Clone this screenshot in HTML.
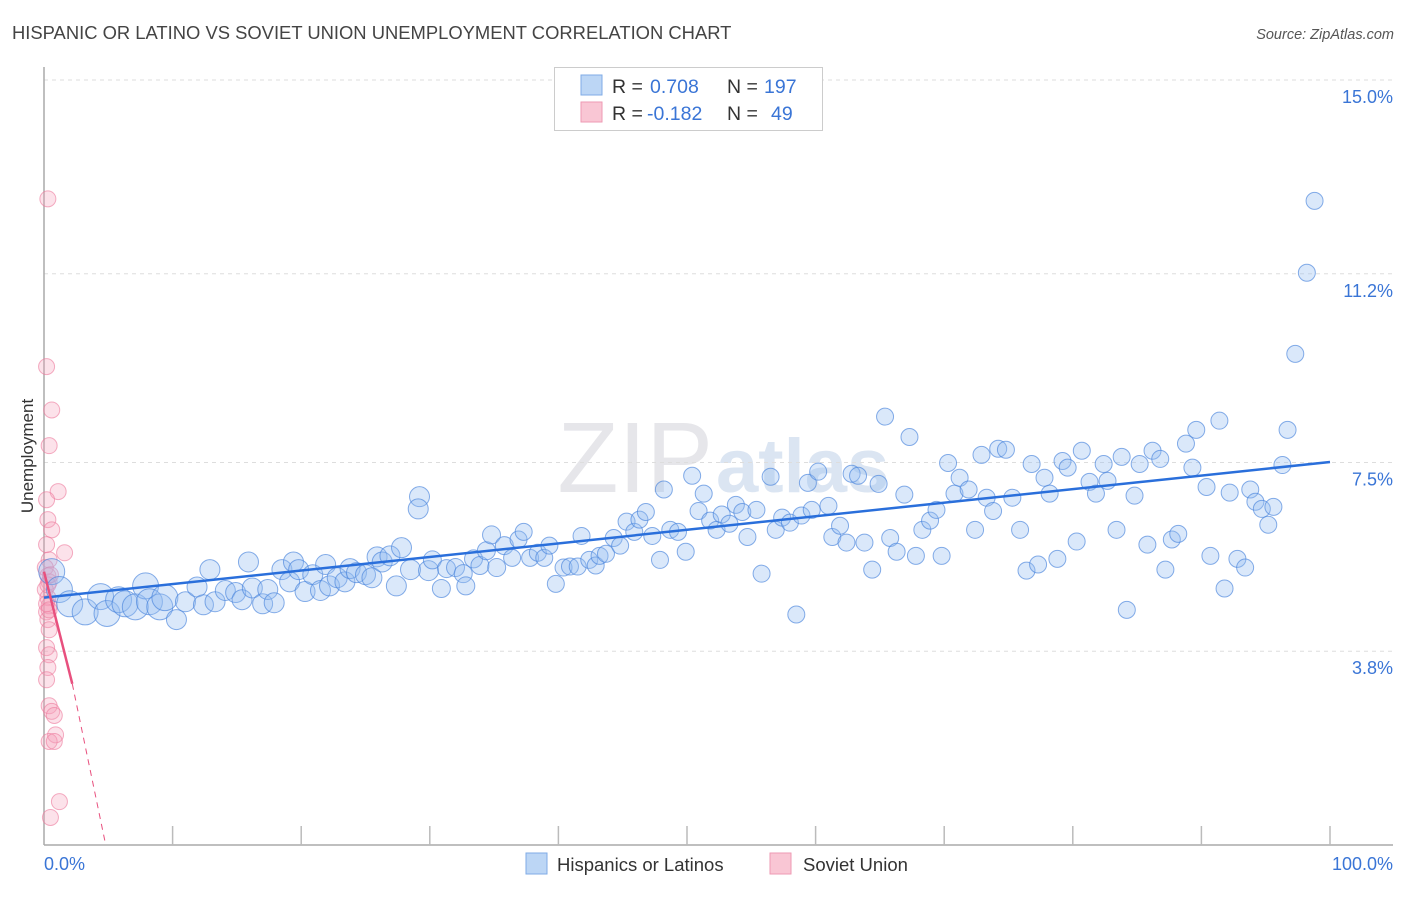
<!DOCTYPE html>
<html><head><meta charset="utf-8"><style>
body{margin:0;background:#fff;font-family:"Liberation Sans",sans-serif}
svg text{font-family:"Liberation Sans",sans-serif}
</style></head><body>
<svg id="chart" width="1406" height="892" xmlns="http://www.w3.org/2000/svg">
<text x="12" y="39" font-size="18.4" fill="#444">HISPANIC OR LATINO VS SOVIET UNION UNEMPLOYMENT CORRELATION CHART</text>
<text x="1394" y="39" font-size="14.5" font-style="italic" fill="#555" text-anchor="end">Source: ZipAtlas.com</text>
<text x="713" y="492" font-size="100" fill="#e6e6ea" text-anchor="end" font-family="Liberation Serif">ZIP</text>
<text x="716" y="492" font-size="76" fill="#dbe5f2" font-weight="bold">atlas</text>
<g id="grid"></g>
<g id="axes"></g>
<g id="pink"></g>
<g id="blue"></g>
<g id="trends"></g>
<text transform="translate(33,456) rotate(-90)" font-size="17" fill="#333" text-anchor="middle">Unemployment</text>
<g>
<rect x="554.5" y="67.5" width="268" height="63" fill="#fff" stroke="#ccc"/>
<rect x="581" y="75" width="21" height="20" fill="#bcd6f5" stroke="#7fabe6"/>
<rect x="581" y="102" width="21" height="20" fill="#f9c6d4" stroke="#ee9ab3"/>
<text x="612" y="93" font-size="19.5" fill="#333">R =</text>
<text x="650" y="93" font-size="19.5" fill="#3a75d6">0.708</text>
<text x="727" y="93" font-size="19.5" fill="#333">N =</text>
<text x="764" y="93" font-size="19.5" fill="#3a75d6">197</text>
<text x="612" y="120" font-size="19.5" fill="#333">R =</text>
<text x="647" y="120" font-size="19.5" fill="#3a75d6">-0.182</text>
<text x="727" y="120" font-size="19.5" fill="#333">N =</text>
<text x="771" y="120" font-size="19.5" fill="#3a75d6">49</text>
</g>
<g>
<rect x="526" y="853" width="21" height="21" fill="#bcd6f5" stroke="#7fabe6"/>
<text x="557" y="871" font-size="18.5" fill="#333">Hispanics or Latinos</text>
<rect x="770" y="853" width="21" height="21" fill="#f9c6d4" stroke="#ee9ab3"/>
<text x="803" y="871" font-size="18.5" fill="#333">Soviet Union</text>
</g>
</svg>
<script>
const yTicks=[15.0,11.2,7.5,3.8];
const yTickLabels=["15.0%","11.2%","7.5%","3.8%"];
const xTickCount=10;
const xLabels=["0.0%","100.0%"];
const blueX=[0.6,1.2,2.0,3.2,4.4,4.9,5.8,6.3,7.1,7.9,8.2,9.0,9.4,10.3,11.0,11.9,12.4,12.9,13.3,14.1,14.9,15.4,15.9,16.2,17.0,17.4,17.9,18.5,19.1,19.4,19.8,20.3,20.9,21.5,21.9,22.2,22.8,23.4,23.8,24.3,25.0,25.5,25.9,26.3,26.9,27.4,27.8,28.5,29.2,29.1,29.9,30.2,30.9,31.3,32.0,32.6,32.8,33.4,33.9,34.4,34.8,35.2,35.8,36.4,36.9,37.3,37.8,38.4,38.9,39.3,39.8,40.4,40.9,41.5,41.8,42.4,42.9,43.2,43.7,44.3,44.8,45.3,45.9,46.3,46.8,47.3,47.9,48.2,48.7,49.3,49.9,50.4,50.9,51.3,51.8,52.3,52.7,53.3,53.8,54.3,54.7,55.4,55.8,56.5,56.9,57.4,58.0,58.5,58.9,59.4,59.7,60.2,61.0,61.3,61.9,62.4,62.8,63.3,63.8,64.4,64.9,65.4,65.8,66.3,66.9,67.3,67.8,68.3,68.9,69.4,69.8,70.3,70.8,71.2,71.9,72.4,72.9,73.3,73.8,74.2,74.8,75.3,75.9,76.4,76.8,77.3,77.8,78.2,78.8,79.2,79.6,80.3,80.7,81.3,81.8,82.4,82.7,83.4,83.8,84.2,84.8,85.2,85.8,86.2,86.8,87.2,87.7,88.2,88.8,89.3,89.6,90.4,90.7,91.4,91.8,92.2,92.8,93.4,93.8,94.2,94.7,95.2,95.6,96.3,96.7,97.3,98.2,98.8];
const blueY=[5.36,5.01,4.73,4.57,4.87,4.54,4.81,4.73,4.67,5.08,4.77,4.67,4.85,4.42,4.77,5.06,4.71,5.40,4.77,4.99,4.95,4.81,5.55,5.04,4.73,5.01,4.75,5.40,5.16,5.55,5.40,4.97,5.30,4.99,5.50,5.08,5.24,5.16,5.42,5.34,5.30,5.24,5.65,5.55,5.67,5.08,5.83,5.40,6.83,6.59,5.38,5.59,5.03,5.42,5.44,5.32,5.08,5.61,5.48,5.77,6.08,5.44,5.87,5.63,5.99,6.14,5.63,5.73,5.63,5.87,5.12,5.44,5.46,5.46,6.06,5.59,5.48,5.67,5.71,6.02,5.87,6.34,6.14,6.38,6.53,6.06,5.59,6.97,6.18,6.14,5.75,7.24,6.55,6.89,6.36,6.18,6.48,6.30,6.67,6.53,6.04,6.57,5.32,7.22,6.18,6.42,6.32,4.52,6.46,7.10,6.57,7.32,6.65,6.04,6.26,5.93,7.28,7.24,5.93,5.40,7.08,8.40,6.02,5.75,6.87,8.00,5.67,6.18,6.36,6.57,5.67,7.49,6.89,7.20,6.97,6.18,7.65,6.81,6.55,7.77,7.75,6.81,6.18,5.38,7.47,5.50,7.20,6.89,5.61,7.53,7.40,5.95,7.73,7.12,6.89,7.47,7.14,6.18,7.61,4.61,6.85,7.47,5.89,7.73,7.57,5.40,5.99,6.10,7.87,7.40,8.14,7.02,5.67,8.32,5.03,6.91,5.61,5.44,6.97,6.73,6.59,6.28,6.63,7.45,8.14,9.63,11.22,12.63];
const pinkX=[0.3,0.2,0.6,0.4,1.1,0.2,0.3,0.6,0.2,1.6,0.4,0.1,0.3,0.4,0.1,0.3,0.4,0.2,0.3,0.4,0.2,0.4,0.3,0.2,0.4,0.6,0.8,0.9,0.4,0.8,1.2,0.5,0.3,0.5,0.2,0.4];
const pinkY=[12.67,9.38,8.53,7.83,6.93,6.77,6.38,6.18,5.89,5.73,5.59,5.44,5.28,5.16,5.01,4.85,4.69,4.57,4.42,4.22,3.87,3.73,3.48,3.24,2.73,2.62,2.54,2.16,2.03,2.03,0.85,0.54,5.10,5.30,4.73,4.61];
const blueTrend=[4.85,7.51];
const pinkTrend=[5.36,3.16,0.0];
const pinkTrendX=[0,2.2,4.8];

const X0=44,X1=1330,YB=845,YT=80;
const sx=v=>X0+(X1-X0)*v/100;
const sy=v=>YB-(YB-YT)*v/15;
const NS="http://www.w3.org/2000/svg";
function mk(tag,parent,attrs){const e=document.createElementNS(NS,tag);for(const k in attrs)e.setAttribute(k,attrs[k]);parent.appendChild(e);return e;}
const grid=document.getElementById('grid'),axes=document.getElementById('axes');
yTicks.forEach((t,i)=>{
  const y=sy(t);
  const l=mk('line',grid,{x1:X0,x2:1393,y1:y,y2:y,stroke:'#ddd','stroke-dasharray':'4,4'});
  
  
  const tx=mk('text',grid,{x:1393,y:y+23,'font-size':18,fill:'#3a75d6','text-anchor':'end'});
  tx.textContent=yTickLabels[i];
  
  
});
const ya=mk('line',axes,{x1:X0,x2:X0,y1:67,y2:YB,stroke:'#aaa','stroke-width':1.5});


const xa=mk('line',axes,{x1:X0,x2:1393,y1:YB,y2:YB,stroke:'#aaa','stroke-width':1.5});


for(let i=1;i<=xTickCount;i++){
  const x=sx(i*100/xTickCount);
  const t=mk('line',axes,{x1:x,x2:x,y1:826,y2:YB,stroke:'#bbb','stroke-width':1.5});
  
  
}
const xl0=mk('text',axes,{x:44,y:870,'font-size':18,fill:'#3a75d6'});xl0.textContent=xLabels[0];


const xl1=mk('text',axes,{x:1393,y:870,'font-size':18,fill:'#3a75d6','text-anchor':'end'});xl1.textContent=xLabels[1];



const pg=document.getElementById('pink');
pinkX.forEach((v,i)=>{
  const c=mk('circle',pg,{cx:sx(v),cy:sy(pinkY[i]),r:8,fill:'rgba(245,160,185,0.3)',stroke:'rgba(236,120,155,0.6)','stroke-width':1});
  
  
});
const bg=document.getElementById('blue');
blueX.forEach((v,i)=>{
  const r=v<10?13:(v<30?10:(v<36?9:8.5));
  const c=mk('circle',bg,{cx:sx(v),cy:sy(blueY[i]),r:r,fill:'rgba(150,190,240,0.35)',stroke:'rgba(70,130,220,0.65)','stroke-width':1});
  
  
});
const tg=document.getElementById('trends');
const bt=mk('line',tg,{x1:sx(0),y1:sy(blueTrend[0]),x2:sx(100),y2:sy(blueTrend[1]),stroke:'#2a6fdb','stroke-width':2.5});


const pt=mk('line',tg,{x1:sx(pinkTrendX[0]),y1:sy(pinkTrend[0]),x2:sx(pinkTrendX[1]),y2:sy(pinkTrend[1]),stroke:'#e8507e','stroke-width':2.5});


const pd=mk('line',tg,{x1:sx(pinkTrendX[1]),y1:sy(pinkTrend[1]),x2:sx(pinkTrendX[2]),y2:sy(pinkTrend[2]),stroke:'#e8507e','stroke-width':1,'stroke-dasharray':'6,5'});


</script>
</body></html>
